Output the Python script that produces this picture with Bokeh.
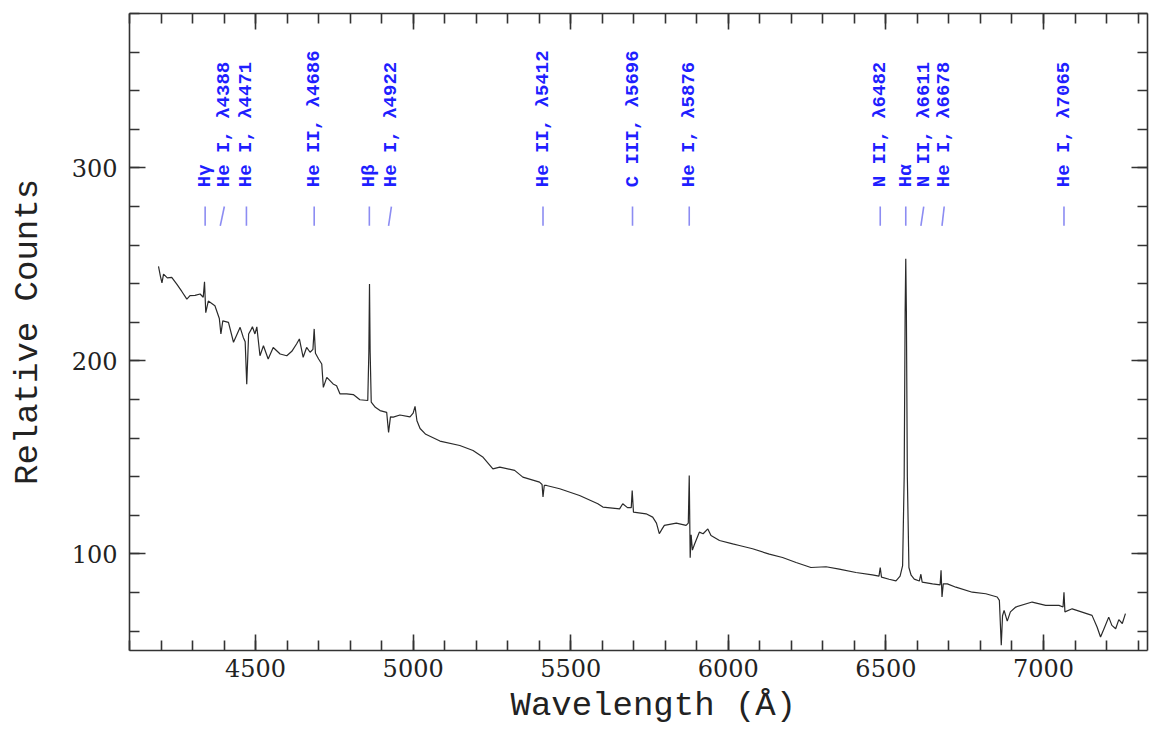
import math
from bokeh.plotting import figure
from bokeh.models import (ColumnDataSource, LinearAxis, SingleIntervalTicker, Title,
                          CustomJSTickFormatter)
from bokeh.core.properties import value
from bokeh.embed import file_html
from bokeh.resources import INLINE

# ---- spectrum data ----
wave = [4192, 4198, 4203, 4208, 4220, 4234, 4250, 4266, 4282, 4292, 4308, 4324, 4334, 4338, 4342,
        4350, 4371, 4385, 4390, 4396, 4414, 4430, 4451, 4461, 4467, 4472, 4478, 4484, 4490, 4498,
        4504, 4514, 4525, 4540, 4556, 4578, 4599, 4615, 4630, 4639, 4651, 4662, 4673, 4682, 4686,
        4690, 4700, 4710, 4715, 4726, 4746, 4757, 4768, 4789, 4810, 4831, 4856, 4859.5, 4861.5,
        4863.5, 4867, 4880, 4895, 4916, 4922, 4928, 4937, 4958, 4990, 5000, 5006, 5012, 5022, 5040,
        5085, 5148, 5190, 5222, 5253, 5275, 5322, 5348, 5401, 5409, 5412, 5416, 5423, 5465, 5528,
        5586, 5602, 5655, 5665, 5680, 5692, 5695, 5699, 5739, 5760, 5772, 5781, 5790, 5797, 5835,
        5866, 5873, 5876, 5879, 5882, 5886, 5893, 5908, 5920, 5935, 5945, 5972, 6014, 6035, 6077,
        6130, 6172, 6215, 6262, 6310, 6352, 6405, 6457, 6478, 6482, 6486, 6510, 6532, 6545, 6553,
        6558, 6561, 6563, 6565, 6568, 6573, 6580, 6590, 6606, 6611, 6615, 6648, 6672, 6675, 6678,
        6682, 6695, 6722, 6774, 6817, 6853, 6860, 6866, 6870, 6875, 6885, 6895, 6912, 6964, 7007,
        7049, 7062, 7065, 7068, 7091, 7154, 7170, 7181, 7192, 7207, 7217, 7229, 7239, 7250, 7260]

counts = [249, 244, 240.5, 245, 243, 243.3, 239.8, 236, 232, 233.8, 234, 234.7, 233, 241, 225,
          231, 228.6, 222, 214, 220.8, 220, 209.7, 217.4, 212.2, 210, 188, 214, 215.7, 217.7, 214,
          217.7, 202.7, 207.9, 201, 207, 203.6, 202.7, 205, 208.8, 211.4, 201.9, 207, 204.5, 206, 216.6,
          204, 201, 198.4, 186.3, 191.5, 188.1, 187.2, 182.9, 182.9, 182.6, 179.9, 179.5, 205, 239.8,
          205, 178.7, 176, 174.3, 173.4, 163, 171, 170.9, 172, 171, 173, 176.5, 169, 165, 162,
          158.5, 156.2, 153.6, 150.1, 144.1, 145, 143.3, 139.8, 137.2, 136, 129.5, 135.5, 135.5, 133.8, 130.3,
          126, 124.3, 123.4, 126, 124, 124, 132.9, 121.7, 120.8, 119.1, 116, 110.5, 113, 114.8, 116,
          114.8, 116, 140.7, 98, 110, 102, 105.2, 111.3, 110.5, 113, 109.6, 107, 105.2, 104.4, 102.7,
          99.9, 98.2, 95.6, 93, 93.4, 92.2, 90.4, 89.2, 88.5, 93, 88, 86.9, 86.1, 88.5, 94,
          140, 225, 253, 225, 140, 93, 89, 87, 86, 89.5, 85.4, 84.5, 84, 91.5, 77.7,
          84.5, 84.5, 82.8, 80.2, 79.4, 77.7, 76, 52.7, 68, 70.8, 65.2, 70, 72.5, 75.1, 73.4,
          73.4, 72.5, 80.2, 70, 71.6, 68.2, 62.2, 57, 61.3, 67.3, 63, 61.3, 66, 64, 69.1]

# ---- line identifications ----
line_names = ["Hγ", "He I, λ4388", "He I, λ4471", "He II, λ4686", "Hβ", "He I, λ4922",
              "He II, λ5412", "C III, λ5696", "He I, λ5876", "N II, λ6482", "Hα",
              "N II, λ6611", "He I, λ6678", "He I, λ7065"]
line_waves = [4340, 4388, 4471, 4686, 4861, 4922, 5412, 5696, 5876, 6482, 6563, 6611, 6678, 7065]
label_waves = [4340, 4401, 4471, 4686, 4861, 4931, 5412, 5696, 5876, 6482, 6563, 6620, 6685, 7065]

x_ticks_major = 500
y_ticks_major = 100

LABEL_Y = 290
MARK_TOP = 280
MARK_BOT = 270

p = figure(width=1149, height=730, x_range=(4100, 7330), y_range=(50, 380),
           output_backend="svg", toolbar_location=None,
           min_border_left=129, min_border_right=2, min_border_top=13, min_border_bottom=80,
           x_axis_location=None, y_axis_location=None)
p.xgrid.visible = False
p.ygrid.visible = False
p.outline_line_color = None
p.background_fill_color = "white"
p.border_fill_color = "white"

def style_axis(ax, labels=True):
    ax.major_tick_in = 16
    ax.major_tick_out = 0
    ax.minor_tick_in = 10
    ax.minor_tick_out = 0
    ax.axis_line_color = "#333333"
    ax.axis_line_width = 1.6
    ax.major_tick_line_color = "#333333"
    ax.major_tick_line_width = 1.6
    ax.minor_tick_line_color = "#333333"
    ax.minor_tick_line_width = 1.6
    if labels:
        ax.major_label_text_font = "DejaVu Serif"
        ax.major_label_text_font_size = "24px"
        ax.major_label_text_color = "#222222"
    else:
        ax.formatter = CustomJSTickFormatter(code="return ''")
        ax.major_label_text_font_size = "0px"
        ax.major_label_standoff = 0

xb = LinearAxis(ticker=SingleIntervalTicker(interval=x_ticks_major, num_minor_ticks=5))
style_axis(xb)
xb.major_label_standoff = 8
p.add_layout(xb, "below")

xt = LinearAxis(ticker=SingleIntervalTicker(interval=x_ticks_major, num_minor_ticks=5))
style_axis(xt, labels=False)
p.add_layout(xt, "above")

yl = LinearAxis(ticker=SingleIntervalTicker(interval=y_ticks_major, num_minor_ticks=5))
style_axis(yl)
yl.major_label_standoff = 12
yl.axis_label = "Relative Counts"
yl.axis_label_text_font = "Liberation Mono"
yl.axis_label_text_font_size = "34px"
yl.axis_label_text_font_style = "normal"
yl.axis_label_text_color = "#222222"
yl.axis_label_standoff = 22
p.add_layout(yl, "left")

yr = LinearAxis(ticker=SingleIntervalTicker(interval=y_ticks_major, num_minor_ticks=5))
style_axis(yr, labels=False)
p.add_layout(yr, "right")

# x-axis title, placed like the original (a little right of the frame centre)
xtitle = Title(text="Wavelength (Å)", align="left", offset=381, standoff=10,
               text_font="Liberation Mono", text_font_size="34px",
               text_font_style="normal", text_color="#222222")
p.add_layout(xtitle, "below")

# spectrum
spec = ColumnDataSource(dict(w=wave, c=counts))
p.line("w", "c", source=spec, line_color="#2a2a2a", line_width=1.2)

# line markers and labels
n = len(line_names)
lab = ColumnDataSource(dict(
    name=line_names, lw=line_waves, lx=label_waves,
    ly=[LABEL_Y] * n, t0=[MARK_TOP] * n, t1=[MARK_BOT] * n))
p.segment(x0="lx", y0="t0", x1="lw", y1="t1", source=lab, line_color="#8c8cf2", line_width=1.6)
p.text(x="lx", y="ly", text="name", source=lab, angle=math.pi / 2,
       text_align="left", text_baseline="middle",
       text_font=value("Liberation Mono"), text_font_style="bold",
       text_font_size="19px", text_color="#1f1fff")

open("out.html", "w").write(file_html(p, INLINE))
